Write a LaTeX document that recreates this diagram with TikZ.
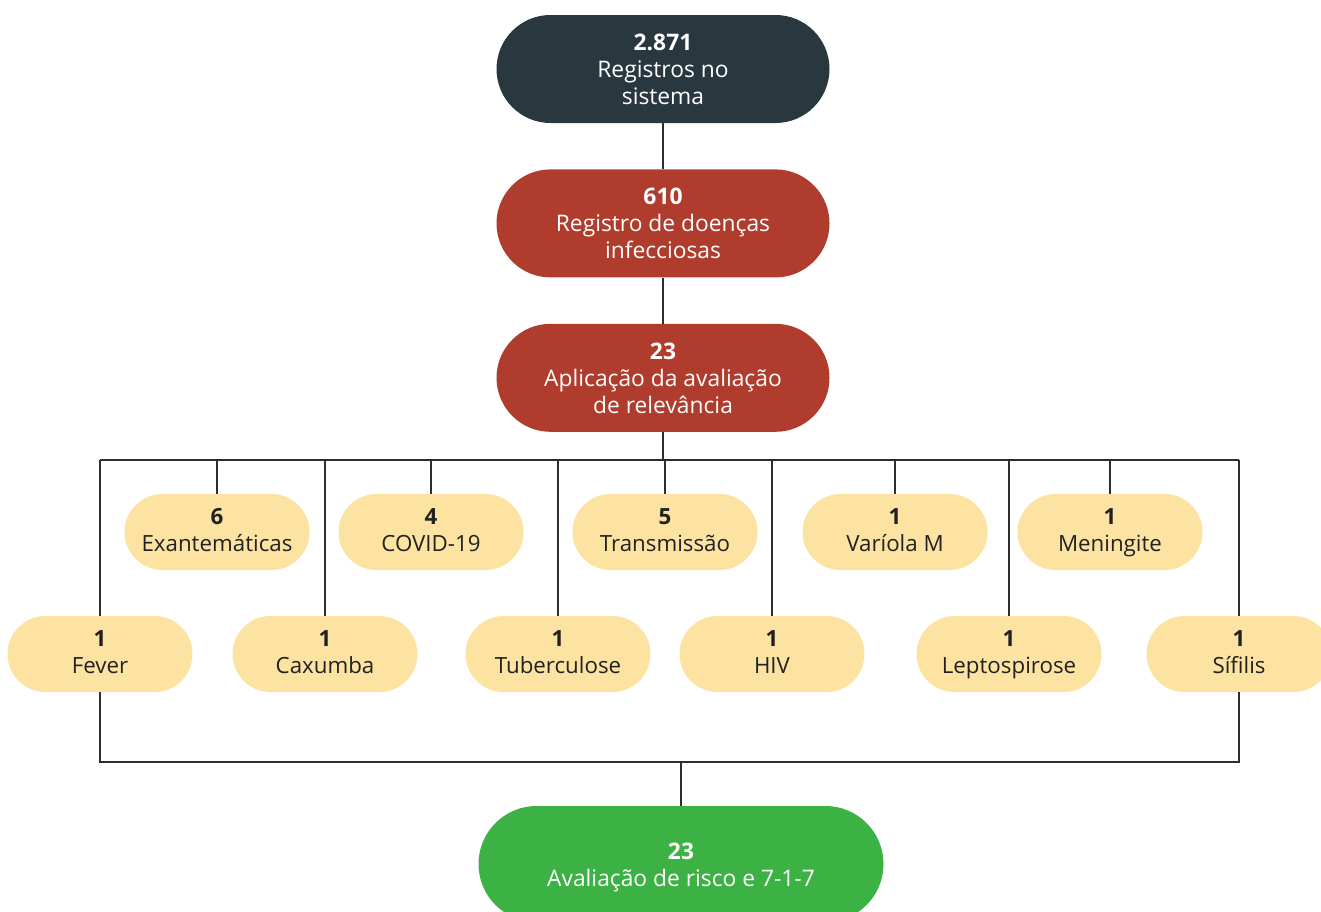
\documentclass[tikz,border=0pt]{standalone}
\usepackage{fontspec}
\setmainfont{Open Sans}
\usetikzlibrary{positioning}
\definecolor{slate}{RGB}{41,55,63}
\definecolor{brick}{RGB}{176,60,45}
\definecolor{sand}{RGB}{253,227,161}
\definecolor{leaf}{RGB}{60,177,68}
\definecolor{ink}{RGB}{45,45,45}
\newcommand\capfix[1][23pt]{\rule{0pt}{#1}}
\newcommand\descfix{\rule[-6pt]{0pt}{6pt}}
\tikzset{
  pill/.style={rectangle,minimum width=333pt,minimum height=108pt,rounded corners=54pt,
    inner sep=0pt,align=center,text=white,font=\fontsize{22.8}{27}\selectfont},
  chip/.style={rectangle,minimum width=185pt,minimum height=76pt,rounded corners=38pt,
    inner sep=0pt,align=center,fill=sand,text=black!87,font=\fontsize{22.3}{27}\selectfont},
  link/.style={draw=ink,line width=1.3pt}
}
\begin{document}
\begin{tikzpicture}[x=1pt,y=-1pt]
 \useasboundingbox (0,0) rectangle (1321,911);
 % main column
 \node[pill,fill=slate] (sys) at (663,69) {\textbf{2.871}\capfix\\Registros no\\sistema\descfix};
 \node[pill,fill=brick,below=46pt of sys] (reg) {\textbf{610}\capfix\\Registro de doenças\\infecciosas\descfix};
 \node[pill,fill=brick,below=46pt of reg] (app) {\textbf{23}\capfix\\Aplicação da avaliação\\de relevância\descfix};
 \draw[link] (sys) -- (reg);
 \draw[link] (reg) -- (app);
 % frame round the diseases
 \coordinate (busL) at (100,460);
 \coordinate (busR) at (1239,460);
 \coordinate (lowL) at (100,762);
 \coordinate (lowR) at (1239,762);
 \draw[link] (busL) -- (busR);
 \draw[link] (app.south) -- (app.south |- busL);
 % upper row
 \foreach \n/\x/\k/\t in {exa/217/6/Exantemáticas, cov/431/4/COVID-19,
   tra/665/5/Transmissão, var/895/1/Varíola M, men/1110/1/Meningite} {
   \node[chip] (\n) at (\x,532) {\textbf{\k}\capfix[17pt]\\\t\descfix};
   \draw[link] (\n.north) -- (\n.north |- busL);
 }
 % lower row
 \foreach \n/\x/\t in {fev/100/Fever, cax/325/Caxumba, tub/558/Tuberculose,
   hiv/772/HIV, lep/1009/Leptospirose, sif/1239/Sífilis} {
   \node[chip] (\n) at (\x,654) {\textbf{1}\capfix[17pt]\\\t\descfix};
   \draw[link] (\n.north) -- (\n.north |- busL);
 }
 \draw[link] (fev.south) -- (lowL) -- (lowR) -- (sif.south);
 % result
 \node[pill,fill=leaf,minimum width=405pt,minimum height=116pt,rounded corners=58pt] (risk) at (681,864) {\textbf{23}\capfix\\Avaliação de risco e 7-1-7\descfix};
 \draw[link] (risk.north |- lowL) -- (risk.north);
\end{tikzpicture}
\end{document}
